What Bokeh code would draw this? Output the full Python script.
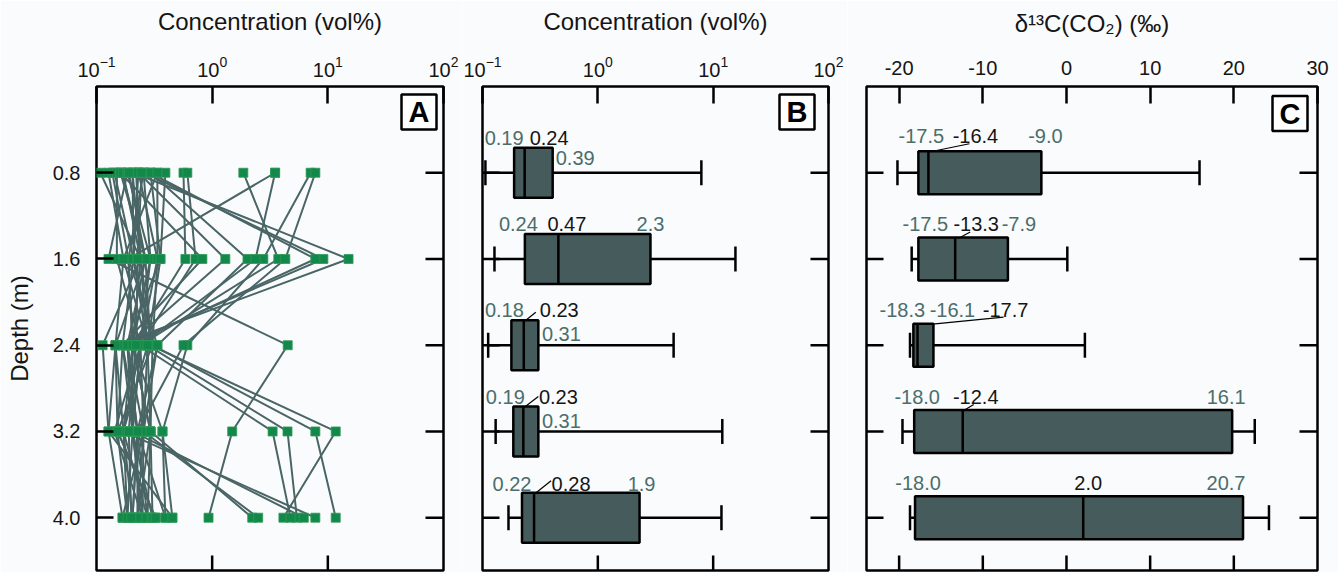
from bokeh.plotting import figure
from bokeh.models import ColumnDataSource, Range1d, FixedTicker
from bokeh.layouts import row
from bokeh.embed import file_html
from bokeh.resources import INLINE
from bokeh.core.properties import value

# ---------------- data ----------------
depths = [0.8, 1.6, 2.4, 3.2, 4.0]
depth_labels = ["0.8", "1.6", "2.4", "3.2", "4.0"]

# Panel A: concentration (vol%) of each sampling profile at each depth
conc_0_8 = [0.108, 0.21, 0.26, 0.29, 1.86, 3.5, 7.1, 7.8, 0.185, 0.23, 0.205, 0.165,
            0.255, 0.336, 0.394, 0.565, 0.61, 0.161, 0.231, 0.293, 3.5, 0.127, 0.137, 0.143,
            0.15, 0.161, 0.17, 0.185, 0.205, 0.231, 0.255, 0.293, 0.336, 0.22, 0.19, 0.245]
conc_1_6 = [0.24, 15.1, 9.15, 7.8, 3.73, 0.189, 2.77, 4.29, 0.127, 0.209, 0.24, 0.265,
            0.293, 0.336, 0.357, 0.587, 0.718, 0.823, 1.3, 2.02, 2.37, 0.171, 0.189, 0.209,
            0.15, 0.265, 0.24, 0.293, 0.209, 0.336, 0.189, 0.357, 0.171, 0.24, 0.265, 0.227]
conc_2_4 = [0.113, 0.146, 0.168, 0.185, 0.24, 0.205, 0.61, 0.565, 4.5, 0.276, 0.305, 0.293,
            0.24, 0.305, 0.276, 0.205, 0.24, 0.168, 0.185, 0.336, 0.24, 0.146, 0.205, 0.168,
            0.24, 0.185, 0.276, 0.205, 0.305, 0.24, 0.336, 0.185, 0.276, 0.205, 0.146, 0.22]
conc_3_2 = [0.127, 0.171, 0.205, 0.226, 0.255, 0.293, 0.372, 0.226, 1.49, 4.48, 7.8, 11.7,
            3.33, 0.293, 0.255, 0.205, 0.171, 0.152, 0.205, 0.226, 0.143, 0.152, 0.171, 0.226,
            0.205, 0.255, 0.171, 0.293, 0.152, 0.205, 0.255, 0.226, 0.293, 0.372, 0.127, 0.19]
conc_4_0 = [0.168, 0.185, 0.25, 0.205, 0.226, 0.276, 0.453, 0.394, 0.93, 5.4, 11.7, 4.13,
            4.75, 2.22, 2.5, 6.2, 7.8, 0.324, 0.305, 0.276, 0.25, 0.185, 0.205, 0.226,
            0.25, 0.168, 0.276, 0.305, 0.324, 0.185, 0.25, 0.205, 0.226, 0.394, 0.453, 0.2]

# Panel B: box plot of concentration (vol%)
b_min = [0.106, 0.127, 0.112, 0.13, 0.168]
b_q1 = [0.188, 0.233, 0.178, 0.185, 0.22]
b_med = [0.232, 0.455, 0.228, 0.226, 0.28]
b_q3 = [0.406, 2.86, 0.305, 0.305, 2.3]
b_max = [7.9, 15.6, 4.54, 12.0, 11.8]
b_q1_text = ["0.19", "0.24", "0.18", "0.19", "0.22"]
b_med_text = ["0.24", "0.47", "0.23", "0.23", "0.28"]
b_q3_text = ["0.39", "2.3", "0.31", "0.31", "1.9"]

# Panel C: box plot of d13C(CO2) (permil)
c_min = [-20.2, -18.5, -18.7, -19.6, -18.7]
c_q1 = [-17.7, -17.7, -18.3, -18.2, -18.1]
c_med = [-16.5, -13.3, -17.8, -12.4, 2.0]
c_q3 = [-3.0, -7.0, -15.9, 19.8, 21.1]
c_max = [15.9, 0.1, 2.2, 22.5, 24.2]
c_q1_text = ["-17.5", "-17.5", "-18.3", "-18.0", "-18.0"]
c_med_text = ["-16.4", "-13.3", "-17.7", "-12.4", "2.0"]
c_q3_text = ["-9.0", "-7.9", "-16.1", "16.1", "20.7"]

log_ticks = [0.1, 1, 10, 100]
c_ticks = [-20, -10, 0, 10, 20, 30]
c_tick_labels = ["-20", "-10", "0", "10", "20", "30"]

TITLE_AB = "Concentration (vol%)"
TITLE_C = "\u03b4\u00b9\u00b3C(CO\u2082) (\u2030)"

# ---------------- style / layout ----------------
FONT = "Liberation Sans"
BG = "#fafbfd"
LINE_C = "#4a6565"
GREEN = "#12894a"
BOX_C = "#465b5b"
QC = "#4b6e6b"
INK = "#151515"
LABEL_FS = "20px"

PX_M = 107.8
H = 572
TOP = 86
BOT = 2
Y_END = (H - TOP - BOT) / PX_M
LOG_LO, LOG_HI = 0.1, 100.0
C_LO, C_HI = -23.9, 30.0


def make_fig(width, left, right, x_type, x_range, xticks, y_labels, title,
             xoverrides=None, label_standoff=10, title_standoff=18):
    p = figure(width=width, height=H, x_axis_type=x_type, x_range=x_range,
               y_range=Range1d(Y_END, 0), x_axis_location="above",
               y_axis_location="left" if y_labels else None,
               output_backend="svg", toolbar_location=None,
               min_border_left=left, min_border_right=right,
               min_border_top=TOP, min_border_bottom=BOT,
               background_fill_color=BG, border_fill_color=BG)
    p.grid.visible = False
    p.outline_line_color = "black"
    p.outline_line_width = 2.5
    top = p.xaxis[0]
    top.ticker = FixedTicker(ticks=xticks)
    top.major_tick_in = 17
    top.major_tick_out = 0
    top.major_tick_line_width = 2.5
    top.major_tick_line_color = "black"
    top.minor_tick_line_color = None
    top.axis_line_color = None
    if xoverrides:
        top.major_label_overrides = xoverrides
    top.major_label_text_font = FONT
    top.major_label_text_font_size = LABEL_FS
    top.major_label_text_color = INK
    top.major_label_standoff = label_standoff
    top.axis_label = title
    top.axis_label_text_font = FONT
    top.axis_label_text_font_size = "24px"
    top.axis_label_text_font_style = "normal"
    top.axis_label_text_color = INK
    top.axis_label_standoff = title_standoff
    if y_labels:
        ax = p.yaxis[0]
        ax.ticker = FixedTicker(ticks=depths)
        ax.major_label_overrides = dict(zip(depths, depth_labels))
        ax.major_tick_in = 17
        ax.major_tick_out = 0
        ax.major_tick_line_width = 2.5
        ax.major_tick_line_color = "black"
        ax.minor_tick_line_color = None
        ax.axis_line_color = None
        ax.major_label_text_font = FONT
        ax.major_label_text_font_size = LABEL_FS
        ax.major_label_text_color = INK
        ax.major_label_standoff = 16
        ax.axis_label = "Depth (m)"
        ax.axis_label_text_font = FONT
        ax.axis_label_text_font_size = "24px"
        ax.axis_label_text_font_style = "normal"
        ax.axis_label_text_color = INK
        ax.axis_label_standoff = 17
    return p


def inner_ticks(p, x_lo, x_hi, shift, bottom_ticks, draw_left):
    """Inward tick marks on the bottom, right (and optionally left) frame edges."""
    tick_h = 15 / PX_M
    p.segment(x0=bottom_ticks, y0=[Y_END] * len(bottom_ticks),
              x1=bottom_ticks, y1=[Y_END - tick_h] * len(bottom_ticks),
              line_color="black", line_width=2.5)
    p.segment(x0=[x_hi] * len(depths), y0=depths, x1=[shift(x_hi, -18)] * len(depths), y1=depths,
              line_color="black", line_width=2.5)
    if draw_left:
        p.segment(x0=[x_lo] * len(depths), y0=depths, x1=[shift(x_lo, 17)] * len(depths), y1=depths,
                  line_color="black", line_width=2.5)


def tag(p, x, y, letter):
    p.scatter(x=[x], y=[y], marker="square", size=35, fill_color="white",
              line_color="black", line_width=2.5)
    p.text(x=[x], y=[y], text=[letter], text_font=value(FONT), text_font_size="29px",
           text_font_style="bold", text_align="center", text_baseline="middle",
           text_color="black")


DEC_A = (443 - 96) / 3.0
DEC_B = (828 - 482) / 3.0
UNIT_C = (1317 - 866) / (C_HI - C_LO)


def log_shift(dec):
    return lambda v, dx: v * 10 ** (dx / dec)


def lin_shift(unit):
    return lambda v, dx: v + dx / unit


# ---------------- Panel A ----------------
pA = make_fig(462, 96, 19, "log", Range1d(LOG_LO, LOG_HI), log_ticks, True, TITLE_AB)
sA = log_shift(DEC_A)
inner_ticks(pA, LOG_LO, LOG_HI, sA, [1, 10], False)
profiles = list(zip(conc_0_8, conc_1_6, conc_2_4, conc_3_2, conc_4_0))
xs = [list(pr) for pr in profiles]
ys = [list(depths) for _ in profiles]
pA.multi_line(xs=xs, ys=ys, line_color=LINE_C, line_width=2)
px_all, py_all = [], []
for col, d in zip([conc_0_8, conc_1_6, conc_2_4, conc_3_2, conc_4_0], depths):
    px_all += col
    py_all += [d] * len(col)
pA.scatter(x=px_all, y=py_all, marker="square", size=9, fill_color=GREEN,
           line_color="#2e9a55", line_width=0.8)
tag(pA, sA(LOG_HI, -24.5), 25.5 / PX_M, "A")


def boxplot(p, mn, q1, md, q3, mx, box_px, cap_px=25):
    bh = box_px / PX_M
    ch = cap_px / PX_M
    src = ColumnDataSource(dict(
        y=depths, mn=mn, q1=q1, md=md, q3=q3, mx=mx,
        btop=[d - bh / 2 for d in depths], bbot=[d + bh / 2 for d in depths],
        ctop=[d - ch / 2 for d in depths], cbot=[d + ch / 2 for d in depths]))
    p.segment(x0="mn", y0="y", x1="mx", y1="y", source=src, line_color="black", line_width=2.5)
    p.segment(x0="mn", y0="ctop", x1="mn", y1="cbot", source=src, line_color="black", line_width=2.5)
    p.segment(x0="mx", y0="ctop", x1="mx", y1="cbot", source=src, line_color="black", line_width=2.5)
    p.hbar(y="y", left="q1", right="q3", height=bh, source=src, fill_color=BOX_C,
           line_color="black", line_width=2.5)
    p.segment(x0="md", y0="btop", x1="md", y1="bbot", source=src, line_color="black", line_width=2.5)


def add_texts(p, xs_, ys_, texts, color):
    p.text(x=xs_, y=ys_, text=texts, text_font=value(FONT), text_font_size=LABEL_FS,
           text_align="center", text_baseline="middle", text_color=color)


def leaders(p, med, spec, shift):
    p.segment(x0=[shift(med[i], a) for i, a, b, c, e in spec],
              y0=[depths[i] + b / PX_M for i, a, b, c, e in spec],
              x1=[shift(med[i], c) for i, a, b, c, e in spec],
              y1=[depths[i] + e / PX_M for i, a, b, c, e in spec],
              line_color="black", line_width=1.2)


# ---------------- Panel B ----------------
pB = make_fig(385, 20, 19, "log", Range1d(LOG_LO, LOG_HI), log_ticks, False, TITLE_AB)
sB = log_shift(DEC_B)
inner_ticks(pB, LOG_LO, LOG_HI, sB, [1, 10], True)
boxplot(pB, b_min, b_q1, b_med, b_q3, b_max, 50)
b_q1_dx = [-10, -6.5, -7, -8, -10]
b_med_dx = [24.5, 8.5, 35.5, 35, 37]
b_q3_dx = [22.5, 0, 23, 23, 2]
b_main_dy = [35, 35, 35, 34, 34]
b_q3_dy = [15, 35, 11, 10, 34]
add_texts(pB, [sB(v, dx) for v, dx in zip(b_q1, b_q1_dx)],
          [d - dy / PX_M for d, dy in zip(depths, b_main_dy)], b_q1_text, QC)
add_texts(pB, [sB(v, dx) for v, dx in zip(b_med, b_med_dx)],
          [d - dy / PX_M for d, dy in zip(depths, b_main_dy)], b_med_text, INK)
add_texts(pB, [sB(v, dx) for v, dx in zip(b_q3, b_q3_dx)],
          [d - dy / PX_M for d, dy in zip(depths, b_q3_dy)], b_q3_text, QC)
leaders(pB, b_med, [(2, 2, -25, 12, -33), (3, 2, -25, 15, -35), (4, 2, -25, 17, -37)], sB)
tag(pB, sB(LOG_HI, -31.5), 25.5 / PX_M, "B")

# ---------------- Panel C ----------------
pC = make_fig(491, 19, 21, "linear", Range1d(C_LO, C_HI), c_ticks, False, TITLE_C,
              xoverrides=dict(zip(c_ticks, c_tick_labels)), label_standoff=12, title_standoff=21)
sC = lin_shift(UNIT_C)
inner_ticks(pC, C_LO, C_HI, sC, c_ticks[:-1], True)
boxplot(pC, c_min, c_q1, c_med, c_q3, c_max, 43)
c_q1_dx = [3, 7, -11, 3, 3]
c_med_dx = [47, 21, 88, 13, 5]
c_q3_dx = [4, 11, 19, -6, -17]
c_dy = [37, 35, 35, 34, 35]
add_texts(pC, [sC(v, dx) for v, dx in zip(c_q1, c_q1_dx)],
          [d - dy / PX_M for d, dy in zip(depths, c_dy)], c_q1_text, QC)
add_texts(pC, [sC(v, dx) for v, dx in zip(c_med, c_med_dx)],
          [d - dy / PX_M for d, dy in zip(depths, c_dy)], c_med_text, INK)
add_texts(pC, [sC(v, dx) for v, dx in zip(c_q3, c_q3_dx)],
          [d - dy / PX_M for d, dy in zip(depths, c_dy)], c_q3_text, QC)
leaders(pC, c_med, [(0, 2, -21, 41, -29), (1, 4, -21, 15, -27), (2, 15, -21, 86, -28),
                    (3, 1, -21, 11, -27)], sC)
tag(pC, sC(C_HI, -27.5), 27 / PX_M, "C")

layout = row(pA, pB, pC)
open("out.html", "w").write(file_html(layout, INLINE))
